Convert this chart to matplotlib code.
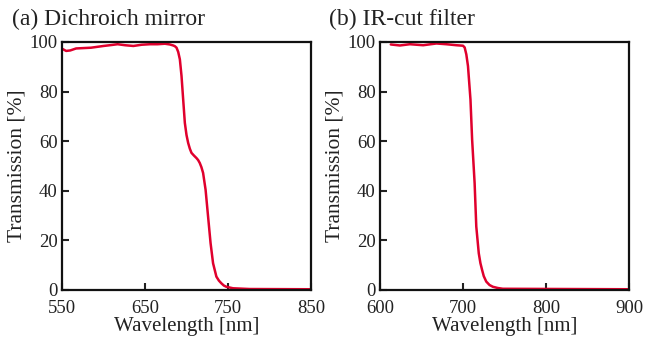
import matplotlib
matplotlib.use("Agg")
import matplotlib.pyplot as plt

# (a) Dichroic mirror
wl_a = [550, 555, 560, 567, 585, 600, 610, 617, 626, 636, 646, 656, 665, 674, 680, 684, 686, 688,
        690, 692, 694, 696, 698, 700, 702, 704, 706, 709, 712, 714, 716, 718, 720, 723, 726, 729,
        732, 736, 739, 742, 745, 748, 756, 776, 850]
tr_a = [97.3, 96.4, 96.6, 97.4, 97.7, 98.4, 98.8, 99.1, 98.7, 98.4, 98.9, 99.1, 99.1, 99.3, 99.0, 98.6, 98.3, 97.7,
        96.0, 93.0, 86.3, 76.8, 67.4, 62.5, 59.3, 57.0, 55.3, 54.2, 53.2, 52.4, 51.2, 49.5, 47.2, 40.4, 29.6, 18.9,
        10.8, 5.4, 3.8, 2.7, 1.8, 1.3, 0.7, 0.4, 0.3]

# (b) IR-cut filter
wl_b = [613, 624, 636, 652, 668, 680, 692, 700, 702, 704, 706, 709, 711, 714, 716, 719, 721, 723,
        725, 728, 732, 736, 742, 748, 900]
tr_b = [99.0, 98.6, 99.1, 98.7, 99.4, 99.1, 98.7, 98.5, 97.8, 95.0, 90.3, 76.8, 60.6, 43.1, 25.6, 14.8, 10.8, 8.1,
        5.6, 3.4, 2.0, 1.3, 0.8, 0.5, 0.3]

titles = ["(a) Dichroich mirror", "(b) IR-cut filter"]
xlims = [(550, 850), (600, 900)]
xticks = [[550, 650, 750, 850], [600, 700, 800, 900]]
yticks = [0, 20, 40, 60, 80, 100]

plt.rcParams['font.family'] = ['Liberation Serif', 'DejaVu Serif']
fig = plt.figure(figsize=(6.51, 3.41), dpi=100)
lefts = [62 / 651, 380 / 651]
title_x = [12 / 651, 329 / 651]
data = [(wl_a, tr_a), (wl_b, tr_b)]
for i in range(2):
    ax = fig.add_axes([lefts[i], 51 / 341, 249 / 651, 248 / 341])
    ax.plot(data[i][0], data[i][1], color='#e0002d', lw=1.8,
            solid_joinstyle='round', solid_capstyle='round')
    ax.set_xlim(*xlims[i])
    ax.set_ylim(0, 100)
    ax.set_xticks(xticks[i])
    ax.set_yticks(yticks)
    ax.tick_params(direction='in', length=5, width=1.5, labelsize=13.5, colors='#222222')
    ax.tick_params(axis='x', pad=7.5)
    ax.tick_params(axis='y', pad=3)
    for s in ax.spines.values():
        s.set_linewidth(1.6)
        s.set_color('#111111')
    ax.set_xlabel("Wavelength [nm]", fontsize=15, labelpad=0, color='#222222')
    ax.set_ylabel("Transmission [%]", fontsize=15.5, labelpad=2, color='#222222')
    fig.text(title_x[i], 1 - 25 / 341, titles[i], fontsize=17, color='#222222', ha='left', va='baseline')

fig.savefig("out.png", dpi=100)
